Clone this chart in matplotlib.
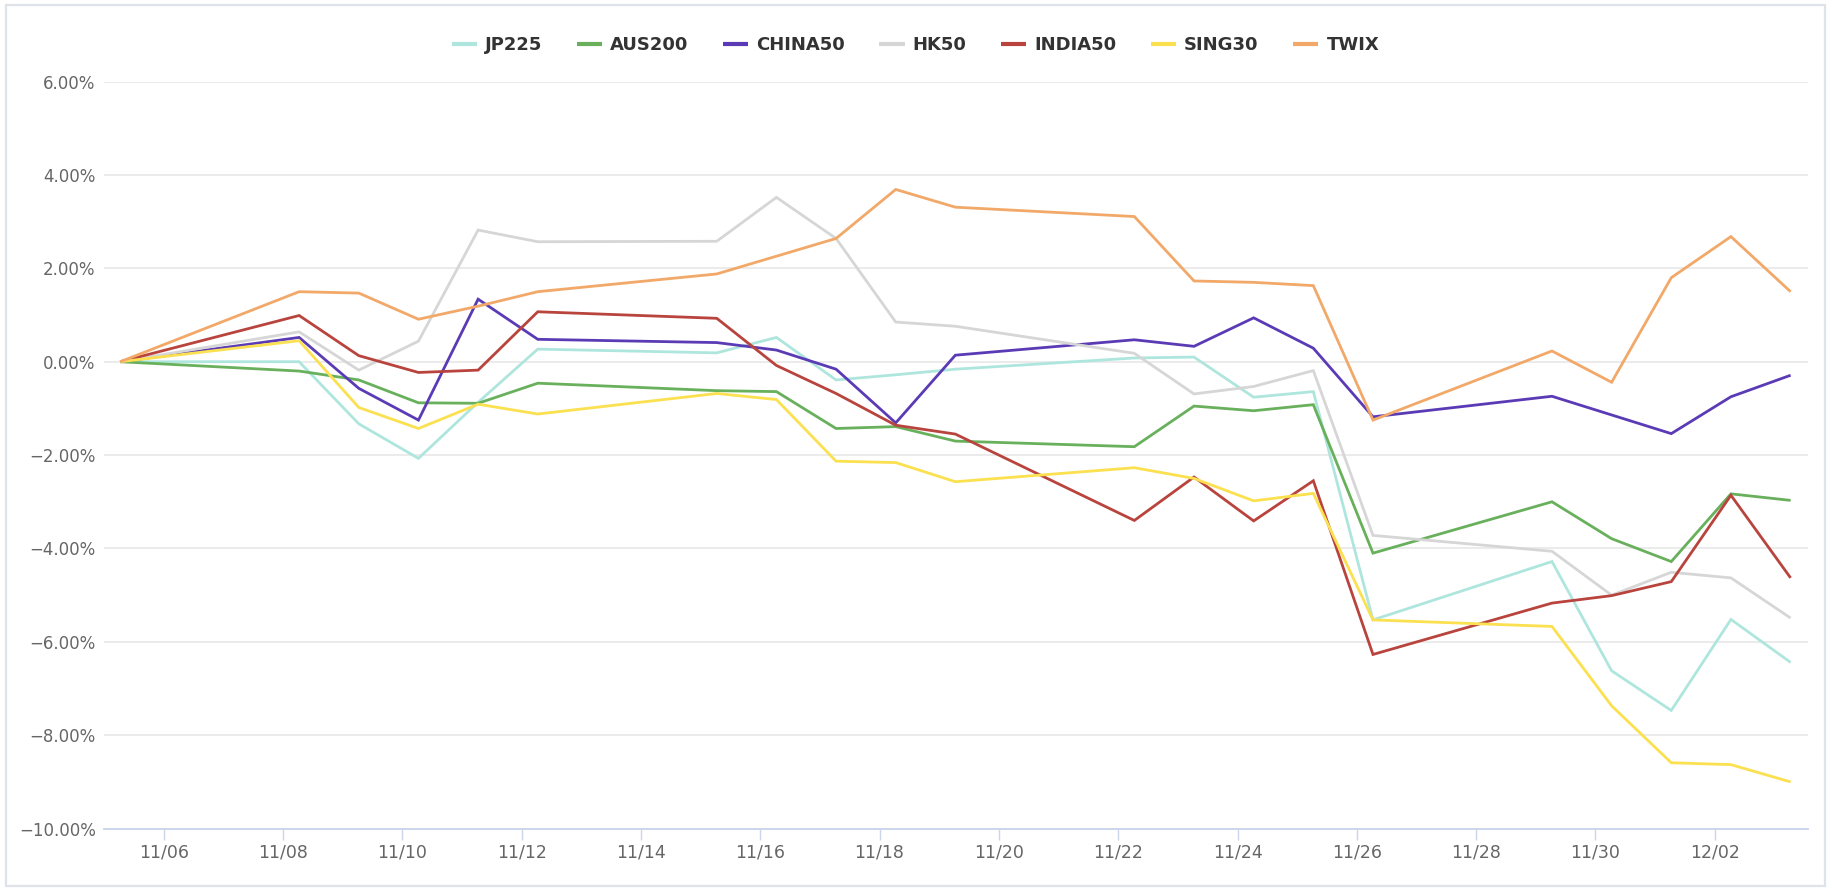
import matplotlib
matplotlib.use("Agg")
import matplotlib.pyplot as plt
import matplotlib.dates as mdates
from matplotlib.patches import Rectangle
from matplotlib.ticker import FuncFormatter, MultipleLocator
import pandas as pd

# ---- data -------------------------------------------------------------
dates = ["2021-11-05", "2021-11-08", "2021-11-09", "2021-11-10", "2021-11-11",
         "2021-11-12", "2021-11-15", "2021-11-16", "2021-11-17", "2021-11-18",
         "2021-11-19", "2021-11-22", "2021-11-23", "2021-11-24", "2021-11-25",
         "2021-11-26", "2021-11-29", "2021-11-30", "2021-12-01", "2021-12-02",
         "2021-12-03"]

jp225 = [0, 0.00, -1.33, -2.07, -0.87, 0.27, 0.19, 0.52, -0.39, -0.28, -0.16,
         0.08, 0.10, -0.76, -0.64, -5.53, -4.28, -6.62, -7.47, -5.52, -6.44]
aus200 = [0, -0.20, -0.39, -0.88, -0.89, -0.46, -0.62, -0.64, -1.43, -1.39, -1.70,
          -1.82, -0.95, -1.05, -0.92, -4.10, -3.00, -3.79, -4.28, -2.83, -2.97]
china50 = [0, 0.52, -0.57, -1.25, 1.34, 0.48, 0.41, 0.25, -0.16, -1.31, 0.14,
           0.47, 0.33, 0.94, 0.29, -1.18, -0.74, -1.14, -1.54, -0.75, -0.29]
hk50 = [0, 0.64, -0.18, 0.44, 2.82, 2.57, 2.58, 3.52, 2.64, 0.85, 0.76,
        0.18, -0.69, -0.53, -0.19, -3.72, -4.06, -5.00, -4.51, -4.63, -5.49]
india50 = [0, 0.99, 0.13, -0.23, -0.18, 1.07, 0.93, -0.08, -0.68, -1.36, -1.55,
           -3.40, -2.47, -3.41, -2.55, -6.27, -5.17, -5.01, -4.71, -2.86, -4.63]
sing30 = [0, 0.45, -0.98, -1.43, -0.91, -1.12, -0.68, -0.81, -2.13, -2.16, -2.57,
          -2.27, -2.50, -2.98, -2.82, -5.53, -5.67, -7.37, -8.59, -8.63, -9.00]
twix = [0, 1.50, 1.47, 0.91, 1.19, 1.50, 1.88, 2.26, 2.64, 3.69, 3.31,
        3.11, 1.73, 1.70, 1.63, -1.25, 0.23, -0.44, 1.80, 2.68, 1.50]

series_names = ["JP225", "AUS200", "CHINA50", "HK50", "INDIA50", "SING30", "TWIX"]
series_values = [jp225, aus200, china50, hk50, india50, sing30, twix]
series_colors = ["#aee6de", "#68b05c", "#5b3bb5", "#d6d6d6", "#b8443d", "#fbe050", "#f2a868"]

# ---- figure -----------------------------------------------------------
W, H = 1832, 896
fig = plt.figure(figsize=(W / 100, H / 100), dpi=100)
fig.patch.set_facecolor("white")

ax_left, ax_right = 104 / W, 1808 / W
ax_top, ax_bottom = 1 - 81.6 / H, 1 - 828.6 / H
ax = fig.add_axes([ax_left, ax_bottom, ax_right - ax_left, ax_top - ax_bottom])

x = pd.to_datetime(dates) + pd.Timedelta(hours=6.5)

for name, vals, col in zip(series_names, series_values, series_colors):
    ax.plot(x, vals, color=col, lw=2.0, label=name, solid_joinstyle="miter",
            solid_capstyle="butt")

ax.set_ylim(-10, 6)
ax.set_xlim(pd.Timestamp("2021-11-05 00:00"), pd.Timestamp("2021-12-03 13:30"))

ax.yaxis.set_major_locator(MultipleLocator(2))
ax.yaxis.set_major_formatter(FuncFormatter(
    lambda v, p: ("\u2212" if v < 0 else "") + "{:.2f}%".format(abs(v))))
ax.xaxis.set_major_locator(mdates.DayLocator(bymonthday=[2, 4, 6, 8, 10, 12, 14, 16, 18, 20,
                                                         22, 24, 26, 28, 30]))
ax.xaxis.set_major_formatter(mdates.DateFormatter("%m/%d"))

ax.grid(axis="y", color="#e6e6e6", lw=1.1)
ax.set_axisbelow(True)
for s in ["left", "right", "top"]:
    ax.spines[s].set_visible(False)
ax.spines["bottom"].set_color("#ccd6eb")
ax.spines["bottom"].set_linewidth(1.4)

ax.tick_params(axis="y", length=0, pad=6, labelsize=12, labelcolor="#666666")
ax.tick_params(axis="x", length=8, width=1.0, color="#ccd6eb", pad=3,
               labelsize=12.5, labelcolor="#666666")

leg = fig.legend(loc="center", bbox_to_anchor=(915.5 / W, 1 - 45 / H), ncol=7,
                 frameon=False, handlelength=1.4, handletextpad=0.45,
                 columnspacing=1.9, prop={"weight": "bold", "size": 13})
for t in leg.get_texts():
    t.set_color("#333333")
for h in leg.get_lines():
    h.set_linewidth(3.0)

# outer light border
fig.patches.append(Rectangle((6 / W, 10 / H), (1825 - 6) / W, (891.3 - 10) / H,
                             transform=fig.transFigure, fill=False,
                             edgecolor="#dde3e8", lw=1.6))

fig.savefig("out.png", dpi=100, facecolor="white")
